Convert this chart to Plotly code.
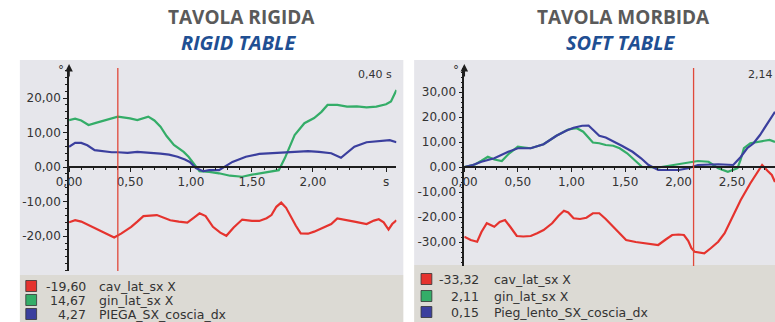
import plotly.graph_objects as go

W, H = 775, 322

# ---------------- DATA ----------------
# Left panel: TAVOLA RIGIDA / RIGID TABLE
t_L_green = [0, 0.05, 0.1, 0.16, 0.22, 0.3, 0.4, 0.5, 0.56, 0.65, 0.7, 0.75, 0.8, 0.86, 0.94, 0.98, 1.02,
             1.07, 1.15, 1.23, 1.32, 1.42, 1.5, 1.56, 1.65, 1.72, 1.77, 1.81, 1.85, 1.93, 2.01, 2.07, 2.12,
             2.2, 2.28, 2.36, 2.44, 2.52, 2.6, 2.64, 2.67, 2.685]
v_L_green = [13.6, 14.0, 13.5, 12.2, 12.8, 13.6, 14.6, 14.1, 13.6, 14.6, 13.5, 11.7, 9.0, 6.4, 4.4, 3.0, 1.2,
             -1.2, -1.4, -1.8, -2.5, -2.8, -2.2, -1.8, -1.2, -0.9, 2.6, 6.0, 9.3, 12.7, 14.2, 16.0, 18.0,
             18.0, 17.5, 17.6, 17.3, 17.5, 18.2, 19.0, 21.0, 22.3]

t_L_blue = [0, 0.05, 0.1, 0.15, 0.21, 0.28, 0.35, 0.4, 0.48, 0.56, 0.65, 0.75, 0.82, 0.89, 0.95, 0.99, 1.04,
            1.1, 1.15, 1.23, 1.34, 1.45, 1.56, 1.65, 1.77, 1.88, 1.96, 2.05, 2.15, 2.23, 2.28, 2.34, 2.44,
            2.53, 2.63, 2.685]
v_L_blue = [5.9, 7.0, 7.0, 6.3, 4.9, 4.5, 4.3, 4.3, 4.1, 4.4, 4.2, 3.9, 3.6, 3.0, 2.2, 1.5, -0.3,
            -1.2, -0.9, -0.9, 1.5, 3.0, 3.8, 4.0, 4.3, 4.6, 4.6, 4.4, 4.0, 2.7, 4.2, 5.9, 7.2,
            7.4, 7.8, 7.2]

t_L_red = [0, 0.05, 0.1, 0.19, 0.29, 0.37, 0.43, 0.51, 0.56, 0.61, 0.72, 0.78, 0.83, 0.9, 0.97, 1.03, 1.07,
           1.12, 1.18, 1.24, 1.29, 1.35, 1.42, 1.5, 1.56, 1.62, 1.66, 1.7, 1.74, 1.78, 1.81, 1.86, 1.9,
           1.96, 2.01, 2.1, 2.15, 2.2, 2.27, 2.34, 2.44, 2.5, 2.54, 2.58, 2.62, 2.65, 2.685]
v_L_red = [-16.0, -15.4, -15.8, -17.3, -19.2, -20.4, -19.2, -17.3, -15.8, -14.2, -13.9, -14.6, -15.4, -15.8,
           -16.1, -14.5, -13.4, -14.2, -17.3, -19.0, -19.9, -17.5, -15.2, -15.6, -15.6, -14.8, -13.9, -11.5,
           -10.3, -11.8, -13.9, -17.0, -19.2, -19.3, -18.7, -17.3, -16.5, -14.9, -15.3, -15.8, -16.5, -15.5,
           -15.1, -16.0, -18.1, -16.5, -15.4]

# Right panel: TAVOLA MORBIDA / SOFT TABLE
t_R_green = [0, 0.1, 0.16, 0.22, 0.28, 0.35, 0.42, 0.5, 0.56, 0.62, 0.74, 0.86, 0.97, 1.05, 1.11, 1.17,
             1.2, 1.26, 1.32, 1.39, 1.45, 1.52, 1.57, 1.66, 1.81, 1.96, 2.09, 2.18, 2.28, 2.37, 2.46, 2.55,
             2.58, 2.61, 2.67, 2.73, 2.8, 2.85, 2.9]
v_R_green = [0, 1.0, 2.5, 4.1, 3.0, 2.4, 5.5, 8.1, 7.8, 7.5, 9.1, 12.5, 15.0, 15.5, 14.1, 11.0,
             9.8, 9.5, 8.8, 8.5, 7.5, 5.5, 3.5, 0.0, -0.2, 0.8, 1.5, 2.4, 2.1, -0.5, -1.9, -0.5,
             3.0, 7.5, 9.5, 10.1, 10.5, 10.8, 10.0]

t_R_blue = [0, 0.08, 0.16, 0.28, 0.41, 0.5, 0.62, 0.74, 0.86, 0.95, 1.02, 1.1, 1.16, 1.2, 1.26, 1.32,
            1.39, 1.47, 1.57, 1.65, 1.72, 1.81, 2.0, 2.09, 2.18, 2.27, 2.37, 2.51, 2.58, 2.64, 2.7, 2.76,
            2.83, 2.9]
v_R_blue = [0, 0.8, 2.1, 3.5, 6.1, 7.5, 7.5, 9.1, 12.5, 14.5, 15.7, 16.5, 16.6, 14.8, 12.5, 11.8,
            10.1, 8.5, 6.1, 3.5, 0.8, -1.2, -1.2, -0.5, 0.8, 1.0, 1.1, 0.8, 4.0, 7.5, 9.5, 12.8,
            17.5, 22.1]

t_R_red = [0, 0.06, 0.12, 0.16, 0.21, 0.25, 0.28, 0.33, 0.38, 0.43, 0.49, 0.55, 0.62, 0.68, 0.74, 0.82,
           0.88, 0.93, 0.97, 1.02, 1.08, 1.14, 1.2, 1.26, 1.32, 1.39, 1.45, 1.51, 1.6, 1.69, 1.75, 1.81,
           1.88, 1.94, 2.0, 2.05, 2.09, 2.12, 2.15, 2.2, 2.24, 2.3, 2.37, 2.43, 2.49, 2.58, 2.67, 2.73,
           2.78, 2.83, 2.87, 2.9]
v_R_red = [-27.9, -29.2, -29.9, -26.0, -22.5, -23.2, -23.9, -22.0, -21.2, -24.0, -27.6, -27.8, -27.6,
           -26.5, -25.2, -22.5, -19.5, -17.5, -18.2, -20.5, -20.8, -20.3, -18.5, -18.5, -20.8, -23.9,
           -26.5, -29.2, -30.0, -30.5, -30.8, -31.2, -29.0, -27.2, -27.0, -27.2, -29.5, -32.5, -33.9,
           -34.3, -34.5, -32.5, -29.9, -26.5, -21.2, -13.2, -6.5, -2.5, 0.8, -1.5, -3.2, -6.0]

cursor_L = 0.40
cursor_R = 2.14
cursor_L_label = "0,40 s"
cursor_R_label = "2,14 s"

x_tickvals = [0, 0.5, 1.0, 1.5, 2.0, 2.6]
x_ticktext_L = ["0,00", "0,50", "1,00", "1,50", "2,00", "s"]
x_tickvals_R = [0, 0.5, 1.0, 1.5, 2.0, 2.5]
x_ticktext_R = ["0,00", "0,50", "1,00", "1,50", "2,00", "2,50"]
y_tickvals_L = [-20, -10, 0, 10, 20]
y_ticktext_L = ["-20,00", "-10,00", "0,00", "10,00", "20,00"]
y_tickvals_R = [-30, -20, -10, 0, 10, 20, 30]
y_ticktext_R = ["-30,00", "-20,00", "-10,00", "0,00", "10,00", "20,00", "30,00"]

legend_vals_L = ["-19,60", "14,67", "4,27"]
legend_names_L = ["cav_lat_sx X", "gin_lat_sx X", "PIEGA_SX_coscia_dx"]
legend_vals_R = ["-33,32", "2,11", "0,15"]
legend_names_R = ["cav_lat_sx X", "gin_lat_sx X", "Pieg_lento_SX_coscia_dx"]

titles = ["TAVOLA RIGIDA", "TAVOLA MORBIDA"]
subtitles = ["RIGID TABLE", "SOFT TABLE"]

# ---------------- STYLE ----------------
RED = "#e5332e"
GREEN = "#34ad68"
BLUE = "#3b3f9e"
AXC = "#1e1e1e"
TXT = "#333333"
BG = "#e6e6eb"
LEG = "#dcdad4"
FONT = "DejaVu Sans"


def px(x):
    return x / W


def py(y):
    return 1 - y / H


fig = go.Figure()

def add_line(t, v, color, xa, ya):
    fig.add_trace(go.Scatter(x=t, y=v, mode="lines", line=dict(color=color, width=2.2),
                             xaxis=xa, yaxis=ya, showlegend=False, hoverinfo="skip"))

add_line(t_L_green, v_L_green, GREEN, "x", "y")
add_line(t_L_blue, v_L_blue, BLUE, "x", "y")
add_line(t_L_red, v_L_red, RED, "x", "y")
add_line(t_R_green, v_R_green, GREEN, "x2", "y2")
add_line(t_R_blue, v_R_blue, BLUE, "x2", "y2")
add_line(t_R_red, v_R_red, RED, "x2", "y2")

tickfont = dict(family=FONT, size=12, color=TXT)

def xaxis(domain, rng, tv, tt):
    return dict(domain=domain, range=rng, anchor="free", position=py(167),
                showline=True, linecolor=AXC, linewidth=1.5, ticks="outside", ticklen=4,
                tickcolor=AXC, tickwidth=1.2, tickvals=tv, ticktext=tt, tickfont=tickfont,
                showgrid=False, zeroline=False,
                minor=dict(ticks="outside", dtick=0.1, ticklen=2, tickcolor=AXC, showgrid=False))

def yaxis(domain, rng, tv, tt, xanchor_name, mdt):
    return dict(domain=domain, range=rng, anchor=xanchor_name, showline=True, linecolor=AXC,
                linewidth=1.5, ticks="outside", ticklen=4, tickcolor=AXC, tickwidth=1.2,
                tickvals=tv, ticktext=tt, tickfont=tickfont, showgrid=False, zeroline=False,
                minor=dict(ticks="outside", dtick=mdt, ticklen=2, tickcolor=AXC, showgrid=False))

xa1 = xaxis([px(57), px(390)], [0, 2.685], x_tickvals, x_ticktext_L)
xa2 = xaxis([px(459), 1.0], [0, 2.90], x_tickvals_R, x_ticktext_R)
ya1 = yaxis([py(271), py(68)], [-30.1, 28.7], y_tickvals_L, y_ticktext_L, "x", 2)
ya2 = yaxis([py(266), py(68)], [-39.6, 39.6], y_tickvals_R, y_ticktext_R, "x2", 2)

shapes = []
# panel backgrounds
shapes.append(dict(type="rect", xref="paper", yref="paper", x0=px(7), x1=px(397), y0=py(275), y1=py(60),
                   fillcolor=BG, line=dict(width=0), layer="below"))
shapes.append(dict(type="rect", xref="paper", yref="paper", x0=px(7), x1=px(397), y0=0, y1=py(275),
                   fillcolor=LEG, line=dict(width=0), layer="below"))
shapes.append(dict(type="rect", xref="paper", yref="paper", x0=px(408), x1=1, y0=py(265), y1=py(60),
                   fillcolor=BG, line=dict(width=0), layer="below"))
shapes.append(dict(type="rect", xref="paper", yref="paper", x0=px(408), x1=1, y0=0, y1=py(265),
                   fillcolor=LEG, line=dict(width=0), layer="below"))
# cursors
shapes.append(dict(type="line", xref="x", yref="y domain", x0=cursor_L, x1=cursor_L, y0=0, y1=1,
                   line=dict(color="#e0483a", width=1.3)))
shapes.append(dict(type="line", xref="x2", yref="y2 domain", x0=cursor_R, x1=cursor_R, y0=0, y1=1,
                   line=dict(color="#e0483a", width=1.3)))

annotations = []
# titles
for cx, title, sub in [(232, titles[0], subtitles[0]), (621, titles[1], subtitles[1])]:
    annotations.append(dict(xref="paper", yref="paper", x=px(cx), y=py(17), text="<b>%s</b>" % title,
                            showarrow=False, xanchor="center", yanchor="middle",
                            font=dict(family="Open Sans", size=19, color="#5a5a5a")))
    annotations.append(dict(xref="paper", yref="paper", x=px(cx - 3), y=py(42), text="<b><i>%s</i></b>" % sub,
                            showarrow=False, xanchor="center", yanchor="middle",
                            font=dict(family="Open Sans", size=20, color="#1f4f93")))

# axis arrows and degree symbols
for xr, yr, dx in [("x", "y domain", 57), ("x2", "y2 domain", 459)]:
    annotations.append(dict(xref=xr, yref=yr, x=0, y=1.02, ax=0, ay=14, showarrow=True, arrowhead=2,
                            arrowsize=1, arrowwidth=1.5, arrowcolor=AXC, text=""))
    annotations.append(dict(xref="paper", yref="paper", x=px(dx - 3), y=py(70), text="°", showarrow=False,
                            xanchor="right", yanchor="middle", font=dict(family=FONT, size=12, color=TXT)))

# cursor labels
annotations.append(dict(xref="paper", yref="paper", x=px(388), y=py(74), text=cursor_L_label,
                        showarrow=False, xanchor="right", yanchor="middle",
                        font=dict(family=FONT, size=11, color=TXT)))
annotations.append(dict(xref="paper", yref="paper", x=px(746), y=py(74), text=cursor_R_label,
                        showarrow=False, xanchor="left", yanchor="middle",
                        font=dict(family=FONT, size=11, color=TXT)))

# legends
colors = [RED, GREEN, BLUE]
for rows, vals, names, sqx, valx, namex in [
        ([286, 300, 314], legend_vals_L, legend_names_L, 13, 76, 85),
        ([279, 296, 312], legend_vals_R, legend_names_R, 415, 476, 487)]:
    for ry, c, v, n in zip(rows, colors, vals, names):
        shapes.append(dict(type="rect", xref="paper", yref="paper", x0=px(sqx), x1=px(sqx + 11),
                           y0=py(ry + 5.5), y1=py(ry - 5.5), fillcolor=c,
                           line=dict(color="#333333", width=0.8)))
        annotations.append(dict(xref="paper", yref="paper", x=px(valx), y=py(ry), text=v, showarrow=False,
                                xanchor="right", yanchor="middle",
                                font=dict(family=FONT, size=12.5, color=TXT)))
        annotations.append(dict(xref="paper", yref="paper", x=px(namex), y=py(ry), text=n, showarrow=False,
                                xanchor="left", yanchor="middle",
                                font=dict(family=FONT, size=12.5, color=TXT)))

fig.update_layout(
    width=W, height=H, autosize=False,
    margin=dict(l=0, r=0, t=0, b=0),
    paper_bgcolor="white", plot_bgcolor="rgba(0,0,0,0)",
    xaxis=xa1, xaxis2=xa2, yaxis=ya1, yaxis2=ya2,
    shapes=shapes, annotations=annotations, showlegend=False,
)

fig.write_html("out.html",
               config={"displayModeBar": False, "responsive": False},
               post_script="document.body.style.margin='0';document.body.style.padding='0';"
                           "document.documentElement.style.overflow='hidden';")
